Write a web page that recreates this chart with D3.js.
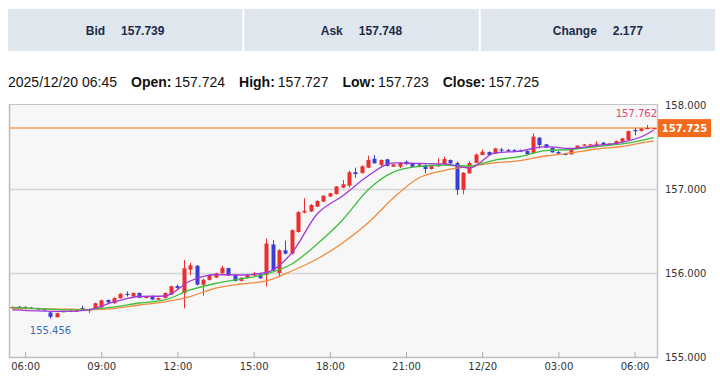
<!DOCTYPE html>
<html><head><meta charset="utf-8">
<script src="https://cdn.jsdelivr.net/npm/d3@7"></script>
<style>body{margin:0;background:#fff;} svg{display:block;}</style>
</head><body>
<svg id="c" width="720" height="379"></svg>
<script>
// ---------- data ----------
const quoteLabels = ["Bid", "Ask", "Change"];
const quoteValues = ["157.739", "157.748", "2.177"];
const infoLabels = ["Open:", "High:", "Low:", "Close:"];
const infoValues = ["157.724", "157.727", "157.723", "157.725"];
const infoTime = "2025/12/20 06:45";

const firstCandle = new Date(2025, 11, 19, 5, 30);
const candleMinutes = 15;
const opens = [155.585,155.598,155.590,155.588,155.578,155.570,155.530,155.474,155.540,155.545,
155.548,155.582,155.562,155.575,155.590,155.678,155.640,155.700,155.752,155.722,
155.762,155.702,155.722,155.682,155.702,155.742,155.845,155.760,156.040,156.086,
155.860,155.918,155.945,155.998,156.058,155.976,155.905,155.940,155.970,155.984,
155.976,156.340,156.000,156.270,156.230,156.488,156.720,156.732,156.790,156.850,
156.910,156.940,157.016,157.040,157.200,157.190,157.254,157.360,157.286,157.353,
157.266,157.266,157.326,157.306,157.292,157.286,157.238,157.270,157.294,157.345,
157.310,156.990,157.187,157.310,157.405,157.440,157.420,157.470,157.465,157.462,
157.460,157.452,157.430,157.611,157.532,157.490,157.440,157.420,157.413,157.484,
157.520,157.522,157.530,157.552,157.516,157.532,157.563,157.583,157.702,157.690,
157.720,157.724];
const highs = [155.600,155.608,155.605,155.595,155.588,155.578,155.540,155.528,155.552,155.556,
155.560,155.610,155.578,155.648,155.682,155.685,155.712,155.760,155.782,155.768,
155.768,155.728,155.732,155.708,155.770,155.850,155.862,156.155,156.120,156.095,
155.930,155.982,156.002,156.085,156.064,155.982,155.950,155.985,156.012,155.992,
156.410,156.390,156.282,156.385,156.520,156.735,156.890,156.820,156.868,156.925,
156.955,157.035,157.107,157.220,157.254,157.282,157.397,157.405,157.352,157.360,
157.300,157.318,157.340,157.312,157.298,157.292,157.280,157.365,157.385,157.352,
157.325,157.200,157.330,157.420,157.470,157.448,157.490,157.490,157.478,157.475,
157.470,157.458,157.663,157.616,157.538,157.495,157.452,157.428,157.482,157.520,
157.535,157.538,157.570,157.558,157.545,157.575,157.608,157.694,157.722,157.725,
157.762,157.727];
const lows = [155.578,155.588,155.585,155.575,155.568,155.552,155.456,155.470,155.534,155.538,
155.542,155.560,155.522,155.570,155.585,155.645,155.635,155.695,155.720,155.718,
155.700,155.698,155.680,155.678,155.698,155.738,155.812,155.580,155.976,155.850,
155.730,155.910,155.940,155.990,155.965,155.900,155.900,155.935,155.965,155.932,
155.840,156.020,155.950,156.222,156.222,156.480,156.710,156.728,156.785,156.845,
156.905,156.935,157.010,157.020,157.135,157.185,157.250,157.300,157.262,157.268,
157.260,157.250,157.290,157.262,157.275,157.187,157.232,157.265,157.290,157.300,
156.929,156.937,157.180,157.305,157.400,157.400,157.415,157.440,157.445,157.445,
157.440,157.408,157.420,157.484,157.488,157.432,157.415,157.402,157.408,157.480,
157.515,157.518,157.525,157.520,157.510,157.528,157.558,157.578,157.640,157.686,
157.716,157.723];
const closes = [155.595,155.592,155.596,155.578,155.572,155.556,155.478,155.522,155.546,155.550,
155.552,155.575,155.566,155.640,155.675,155.650,155.700,155.752,155.746,155.762,
155.705,155.722,155.684,155.702,155.762,155.842,155.822,156.056,156.092,155.862,
155.920,155.976,155.995,156.062,155.970,155.905,155.944,155.976,155.996,155.937,
156.350,156.030,156.272,156.230,156.510,156.725,156.740,156.810,156.857,156.920,
156.950,157.030,157.056,157.199,157.178,157.270,157.345,157.306,157.345,157.274,
157.294,157.313,157.294,157.266,157.280,157.238,157.274,157.290,157.357,157.306,
156.990,157.194,157.310,157.410,157.444,157.405,157.484,157.456,157.455,157.452,
157.445,157.413,157.623,157.524,157.492,157.437,157.422,157.410,157.476,157.516,
157.530,157.532,157.540,157.524,157.540,157.571,157.603,157.690,157.696,157.720,
157.726,157.725];

// moving averages at these candle indices
const maIndex = [0,4,8,12,16,20,24,28,32,36,40,44,48,52,56,60,64,68,72,76,80,84,88,92,96,100,101];
const maShort = [155.560,155.548,155.542,155.560,155.655,155.720,155.726,155.905,155.982,155.976,
156.006,156.238,156.702,156.917,157.155,157.310,157.304,157.298,157.250,157.429,
157.452,157.504,157.482,157.518,157.554,157.655,157.702];
const maMid = [155.589,155.577,155.560,155.565,155.595,155.643,155.679,155.798,155.875,155.929,
155.988,156.107,156.345,156.631,156.988,157.202,157.268,157.286,157.274,157.345,
157.387,157.458,157.470,157.506,157.536,157.595,157.613];
const maLong = [155.577,155.577,155.571,155.565,155.577,155.619,155.655,155.720,155.821,155.869,
155.905,156.024,156.167,156.357,156.595,156.893,157.131,157.220,157.268,157.310,
157.339,157.393,157.429,157.476,157.506,157.560,157.571];

const yTicks = [155, 156, 157, 158];
const xTickTimes = [[2025,11,19,6],[2025,11,19,9],[2025,11,19,12],[2025,11,19,15],[2025,11,19,18],[2025,11,19,21],[2025,11,20,0],[2025,11,20,3],[2025,11,20,6]];
const xTickLabels = ["06:00","09:00","12:00","15:00","18:00","21:00","12/20","03:00","06:00"];
const lastPrice = 157.725;
const highLabel = 157.762, highIndex = 100;
const lowLabel = 155.456, lowIndex = 6;

// ---------- drawing ----------
const svg = d3.select("#c");

// quote boxes
const boxX = d3.scaleBand().domain(quoteLabels).range([8, 715]).paddingInner(0.009);
const qb = svg.selectAll("g.q").data(quoteLabels).join("g")
  .attr("transform", d => `translate(${boxX(d)},9)`);
qb.append("rect").attr("width", boxX.bandwidth()).attr("height", 42).attr("fill", "#dfe6ee");
qb.append("text").attr("x", boxX.bandwidth()/2).attr("y", 26)
  .attr("text-anchor", "middle")
  .style("font", "bold 12px 'Liberation Sans', Arial, sans-serif").attr("fill", "#1c2b4b")
  .call(t => {
    t.append("tspan").text(d => d);
    t.append("tspan").attr("dx", 16).text((d, i) => quoteValues[i]);
  });

// info line
const info = svg.append("text").attr("x", 8).attr("y", 87)
  .style("font", "14px 'Liberation Sans', Arial, sans-serif").attr("fill", "#111");
info.append("tspan").text(infoTime);
infoLabels.forEach((l, i) => {
  info.append("tspan").attr("dx", 14).attr("font-weight", "bold").text(l);
  info.append("tspan").attr("dx", 3).text(infoValues[i]);
});

// plot
const L = 9, R = 657, T = 105, B = 357;
const x = d3.scaleTime()
  .domain([new Date(2025, 11, 19, 5, 22), new Date(2025, 11, 20, 6, 53)])
  .range([L, R]);
const y = d3.scaleLinear().domain([155, 158]).range([B, T]);

svg.append("rect").attr("x", L).attr("y", T - 1).attr("width", R - L).attr("height", B - T + 1)
  .attr("fill", "#f7f7f7");

// grid
svg.append("g").selectAll("line").data(yTicks.filter(v => v > 155 && v < 158)).join("line")
  .attr("x1", L).attr("x2", R).attr("y1", d => Math.round(y(d)) + 0.5).attr("y2", d => Math.round(y(d)) + 0.5)
  .attr("stroke", "#d6d6d6").attr("stroke-width", 1.5);

// frame
svg.append("line").attr("x1", L).attr("x2", R).attr("y1", T - 0.5).attr("y2", T - 0.5).attr("stroke", "#c4c4c4");
svg.append("line").attr("x1", L + 0.5).attr("x2", L + 0.5).attr("y1", T - 1).attr("y2", B + 1).attr("stroke", "#bdbdbd").attr("stroke-width", 1.5);
svg.append("line").attr("x1", R + 0.5).attr("x2", R + 0.5).attr("y1", T - 1).attr("y2", B + 1).attr("stroke", "#c4c4c4").attr("stroke-width", 1.5);
svg.append("line").attr("x1", L).attr("x2", R + 1).attr("y1", B + 0.5).attr("y2", B + 0.5).attr("stroke", "#bdbdbd").attr("stroke-width", 1.5);

// x axis
const xTickDates = xTickTimes.map(a => new Date(a[0], a[1], a[2], a[3]));
const xAxis = d3.axisBottom(x).tickValues(xTickDates).tickSize(0)
  .tickFormat((d, i) => xTickLabels[i]).tickPadding(0);
const gx = svg.append("g").attr("transform", `translate(0,${B})`).call(xAxis);
gx.select(".domain").remove();
gx.selectAll(".tick text").attr("y", 13).attr("dy", 0).attr("fill", "#333")
  .style("font", "10px 'DejaVu Sans', Verdana, sans-serif");
gx.selectAll(".tick").append("line").attr("y1", 0).attr("y2", -5).attr("stroke", "#aaa");

// y axis
const yAxis = d3.axisRight(y).tickValues(yTicks).tickSize(0).tickPadding(0).tickFormat(d3.format(".3f"));
const gy = svg.append("g").attr("transform", `translate(${R},0)`).call(yAxis);
gy.select(".domain").remove();
gy.selectAll(".tick text").attr("x", 8).attr("fill", "#333")
  .style("font", "10px 'DejaVu Sans', Verdana, sans-serif");

// last price line
svg.append("line").attr("x1", L).attr("x2", R).attr("y1", y(lastPrice)).attr("y2", y(lastPrice))
  .attr("stroke", "#f3a064").attr("stroke-width", 1.5);

// candles
const candles = opens.map((o, i) => ({
  t: new Date(firstCandle.getTime() + i * candleMinutes * 60000),
  o, h: highs[i], l: lows[i], c: closes[i]
}));
const up = "#ec2e2e", down = "#3c3cd8";
const cg = svg.append("g");
cg.selectAll("line").data(candles).join("line")
  .attr("x1", d => Math.round(x(d.t)) + 0.5).attr("x2", d => Math.round(x(d.t)) + 0.5)
  .attr("y1", d => y(d.h)).attr("y2", d => y(d.l))
  .attr("stroke", d => d.c >= d.o ? up : down).attr("stroke-width", 1);
cg.selectAll("rect").data(candles).join("rect")
  .attr("x", d => Math.round(x(d.t)) - 1.5).attr("width", 4)
  .attr("y", d => y(Math.max(d.o, d.c)))
  .attr("height", d => Math.max(1.2, Math.abs(y(d.o) - y(d.c))))
  .attr("fill", d => d.c >= d.o ? up : down);

// moving averages
const maLine = vals => d3.line().curve(d3.curveMonotoneX)
  .x((d, k) => x(candles[maIndex[k]].t)).y(d => y(d))(vals);
[[maLong, "#f08a3c"], [maMid, "#3cbf3c"], [maShort, "#a238d8"]].forEach(([vals, col]) => {
  svg.append("path").attr("d", maLine(vals)).attr("fill", "none").attr("stroke", col).attr("stroke-width", 1.3);
});

// high / low labels
svg.append("text").attr("x", R).attr("y", y(highLabel) - 8).attr("text-anchor", "end")
  .attr("fill", "#e0457a").style("font", "10px 'DejaVu Sans', Verdana, sans-serif")
  .text(highLabel.toFixed(3));
svg.append("text").attr("x", x(candles[lowIndex].t)).attr("y", y(lowLabel) + 15).attr("text-anchor", "middle")
  .attr("fill", "#3b6cb8").style("font", "10px 'DejaVu Sans', Verdana, sans-serif")
  .text(lowLabel.toFixed(3));

// price tag
svg.append("rect").attr("x", R + 1).attr("y", y(lastPrice) - 9).attr("width", 53).attr("height", 18)
  .attr("fill", "#f26a1c");
svg.append("text").attr("x", R + 27.5).attr("y", y(lastPrice) + 4).attr("text-anchor", "middle")
  .attr("fill", "#fff").style("font", "bold 10px 'DejaVu Sans', Verdana, sans-serif")
  .text(lastPrice.toFixed(3));
</script>
</body></html>
